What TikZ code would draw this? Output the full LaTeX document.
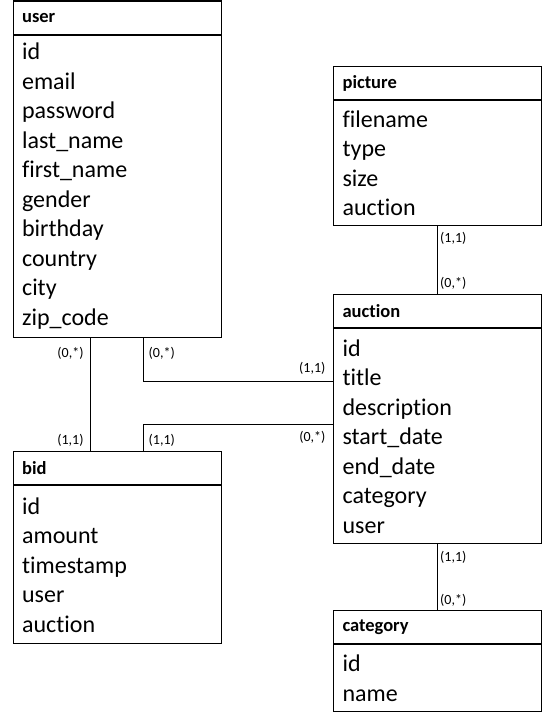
\documentclass[tikz,border=0pt]{standalone}
\usepackage{fontspec}
\setmainfont{Carlito}[Ligatures={NoCommon,NoContextual}]
\usetikzlibrary{positioning}
\tikzstyle{entity} = [
rectangle,
draw=black,
line width=1.2pt,
anchor=north west,
minimum height=33pt,
inner xsep=9pt,
text width=190pt,
align=left,
font=\fontsize{18.5}{22}\selectfont\bfseries
]
\tikzstyle{attrs} = [
rectangle,
draw=black,
line width=1.2pt,
inner xsep=9pt,
text width=190pt,
align=left,
font=\fontsize{24}{29.5}\selectfont
]
\tikzstyle{card} = [
inner sep=2pt,
font=\fontsize{14}{16}\selectfont
]

\begin{document}
\begin{tikzpicture}[
	x=1pt,
	y=-1pt,
	line width=1.2pt
	]
	\useasboundingbox (0,0) rectangle (542,712);
	
	\node[entity] (user) at (12.5,0.5) {user};
	\node[attrs,below=0pt of user,minimum height=302pt] (userattr) {id\\email\\password\\last\_name\\first\_name\\gender\\birthday\\country\\city\\zip\_code};
	
	\node[entity] (bid) at (12.5,451) {bid};
	\node[attrs,below=0pt of bid,minimum height=158pt] (bidattr) {id\\amount\\timestamp\\user\\auction};
	
	\node[entity] (picture) at (333,66) {picture};
	\node[attrs,below=0pt of picture,minimum height=125pt] (pictureattr) {filename\\type\\size\\auction};
	
	\node[entity] (auction) at (333,294) {auction};
	\node[attrs,below=0pt of auction,minimum height=215pt] (auctionattr) {id\\title\\description\\start\_date\\end\_date\\category\\user};
	
	\node[entity] (category) at (333,610) {category};
	\node[attrs,below=0pt of category,minimum height=67pt] (categoryattr) {id\\name};
	
	% user -- bid
	\draw ([xshift=-27pt]userattr.south) -- ([xshift=-27pt]bid.north)
		node[card,at start,anchor=east,xshift=-4pt,yshift=-15pt] (ubfrom) {(0,*)}
		node[card,at end,anchor=east,xshift=-4pt,yshift=11pt] (ubto) {(1,1)};
	% user -- auction
	\draw ([xshift=26pt]userattr.south) |- ([yshift=-53pt]auctionattr.north west)
		node[card,at start,anchor=west,xshift=3pt,yshift=-15pt] (uafrom) {(0,*)}
		node[card,at end,anchor=east,xshift=-5pt,yshift=12.7pt] (uato) {(1,1)};
	% bid -- auction
	\draw ([xshift=26pt]bid.north) |- ([yshift=-96pt]auctionattr.north west)
		node[card,at start,anchor=west,xshift=3pt,yshift=11pt] (bafrom) {(1,1)}
		node[card,at end,anchor=east,xshift=-5pt,yshift=-12.7pt] (bato) {(0,*)};
	% picture -- auction
	\draw (pictureattr.south) -- (auction.north)
		node[card,at start,anchor=west,yshift=-11.7pt] (pafrom) {(1,1)}
		node[card,at end,anchor=west,yshift=10.7pt] (pato) {(0,*)};
	% auction -- category
	\draw (auctionattr.south) -- (category.north)
		node[card,at start,anchor=west,yshift=-13pt] (acfrom) {(1,1)}
		node[card,at end,anchor=west,yshift=10pt] (acto) {(0,*)};
\end{tikzpicture}
\end{document}
